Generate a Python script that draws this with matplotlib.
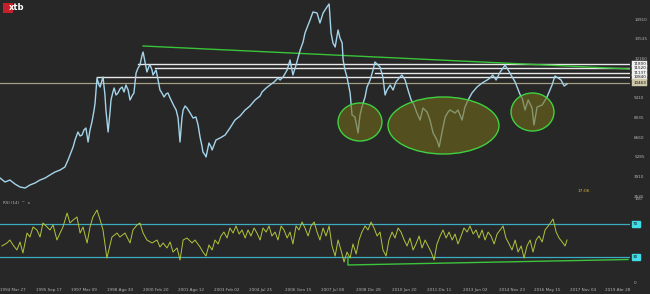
import matplotlib
matplotlib.use("Agg")
import matplotlib.pyplot as plt
from matplotlib.patches import Ellipse, Rectangle
from datetime import date

# weekly-ish IBEX 35 closes (decimal year, points)
price_years = [1994.23, 1994.44, 1994.64, 1994.85, 1995.06, 1995.27, 1995.47, 1995.68, 1995.89, 1996.10,
               1996.30, 1996.51, 1996.72, 1996.92, 1997.05, 1997.13, 1997.26, 1997.34, 1997.46, 1997.55,
               1997.63, 1997.71, 1997.79, 1997.88, 1997.96, 1998.04, 1998.13, 1998.17, 1998.25, 1998.33,
               1998.38, 1998.46, 1998.50, 1998.58, 1998.62, 1998.71, 1998.79, 1998.83, 1998.91, 1998.96,
               1999.04, 1999.12, 1999.20, 1999.29, 1999.37, 1999.45, 1999.54, 1999.62, 1999.70, 1999.78,
               1999.87, 1999.95, 2000.03, 2000.12, 2000.16, 2000.24, 2000.32, 2000.41, 2000.45, 2000.53,
               2000.57, 2000.65, 2000.70, 2000.78, 2000.86, 2000.94, 2001.03, 2001.11, 2001.19, 2001.28,
               2001.36, 2001.44, 2001.53, 2001.61, 2001.69, 2001.77, 2001.82, 2001.90, 2001.98, 2002.11,
               2002.23, 2002.35, 2002.44, 2002.52, 2002.60, 2002.64, 2002.73, 2002.77, 2002.85, 2002.89,
               2002.98, 2003.02, 2003.10, 2003.18, 2003.35, 2003.56, 2003.76, 2003.97, 2004.18, 2004.39,
               2004.59, 2004.80, 2005.01, 2005.09, 2005.26, 2005.42, 2005.59, 2005.75, 2005.84, 2005.96,
               2006.13, 2006.25, 2006.37, 2006.50, 2006.67, 2006.79, 2006.87, 2007.00, 2007.08, 2007.20,
               2007.37, 2007.49, 2007.62, 2007.78, 2007.87, 2007.95, 2008.03, 2008.12, 2008.24, 2008.32,
               2008.41, 2008.45, 2008.53, 2008.61, 2008.74, 2008.82, 2008.94, 2009.07, 2009.15, 2009.23,
               2009.36, 2009.44, 2009.57, 2009.69, 2009.77, 2009.90, 2009.98, 2010.10, 2010.19, 2010.27,
               2010.40, 2010.52, 2010.64, 2010.77, 2010.89, 2011.02, 2011.14, 2011.27, 2011.39, 2011.51,
               2011.64, 2011.76, 2011.93, 2012.05, 2012.18, 2012.34, 2012.43, 2012.55, 2012.68, 2012.80,
               2012.88, 2013.09, 2013.21, 2013.38, 2013.50, 2013.63, 2013.79, 2014.00, 2014.21, 2014.42,
               2014.54, 2014.65, 2014.79, 2014.96, 2015.08, 2015.16, 2015.29, 2015.41, 2015.58, 2015.66,
               2015.79, 2015.87, 2015.99, 2016.12, 2016.28, 2016.36, 2016.49, 2016.70, 2016.90, 2017.11,
               2017.23, 2017.36, 2017.48, 2017.61, 2017.73]
price_close = [3815, 3536, 3676, 3396, 3187, 3117, 3327, 3466, 3676, 3815,
               4024, 4234, 4373, 4583, 5071, 5420, 5978, 6467, 7025, 6746,
               6816, 7165, 7304, 6327, 7165, 7723, 8560, 9049, 10793, 10305,
               10165, 10654, 10863, 9607, 8560, 7025, 8421, 9258, 9816, 10095,
               9607, 9747, 10026, 10165, 9816, 10305, 9956, 9258, 9537, 9747,
               11142, 11491, 11700, 12398, 12607, 11910, 11212, 11631, 11700, 11351,
               11002, 11212, 11351, 10654, 9956, 9747, 9467, 9677, 9747, 9398,
               9118, 8839, 8560, 8002, 6327, 8002, 8560, 8839, 8700, 8351,
               8002, 8072, 7514, 6676, 6048, 5629, 5420, 5281, 5909, 6258,
               5978, 5769, 6118, 6467, 6606, 6816, 7304, 7862, 8142, 8560,
               8839, 9258, 9537, 9816, 10095, 10305, 10514, 10793, 10654, 10863,
               11351, 12049, 11002, 11700, 12747, 13305, 13933, 14492, 14840, 15399,
               15329, 14631, 15329, 15748, 15957, 13933, 13235, 12956, 14143, 13584,
               13235, 12049, 11351, 10863, 9747, 8211, 8072, 6955, 8211, 8770,
               9467, 10165, 10654, 11351, 11910, 11700, 11561, 10863, 9607, 9956,
               10305, 9956, 10514, 10793, 11002, 10654, 9956, 9258, 8909, 8351,
               7862, 8700, 8421, 7862, 6955, 6467, 5978, 7025, 8072, 8421,
               8560, 8351, 8560, 7862, 8770, 9258, 9747, 10165, 10444, 10654,
               10793, 11002, 10654, 11212, 11491, 11700, 11351, 11002, 10514, 10165,
               9607, 9398, 8560, 9258, 8700, 7514, 8770, 8909, 9467, 10305,
               10933, 10793, 10654, 10235, 10374]

# RSI(14)
rsi_years = [1994.31, 1994.52, 1994.64, 1994.77, 1994.93, 1995.06, 1995.18, 1995.35, 1995.47, 1995.60,
             1995.76, 1995.89, 1996.01, 1996.18, 1996.30, 1996.43, 1996.59, 1996.72, 1996.84, 1997.01,
             1997.13, 1997.26, 1997.42, 1997.55, 1997.67, 1997.84, 1997.96, 1998.08, 1998.25, 1998.38,
             1998.50, 1998.66, 1998.87, 1999.08, 1999.20, 1999.41, 1999.62, 1999.74, 1999.91, 2000.03,
             2000.16, 2000.32, 2000.53, 2000.74, 2000.86, 2000.99, 2001.15, 2001.28, 2001.40, 2001.57,
             2001.69, 2001.82, 2001.98, 2002.19, 2002.31, 2002.52,
             2002.64, 2002.77, 2002.89, 2003.02, 2003.14, 2003.27, 2003.39, 2003.51, 2003.64, 2003.76,
             2003.89, 2004.01, 2004.14, 2004.26, 2004.39, 2004.51, 2004.63, 2004.76, 2004.88, 2005.01,
             2005.13, 2005.26, 2005.38, 2005.50, 2005.63, 2005.75, 2005.88, 2006.00, 2006.13, 2006.25,
             2006.37, 2006.50, 2006.62, 2006.75, 2006.87, 2007.00, 2007.12, 2007.25, 2007.37, 2007.49,
             2007.62, 2007.74, 2007.87, 2007.99, 2008.12, 2008.24, 2008.36, 2008.49, 2008.61, 2008.74,
             2008.86, 2008.99, 2009.11, 2009.23, 2009.36, 2009.48, 2009.61, 2009.73, 2009.86, 2009.98,
             2010.10, 2010.23, 2010.35, 2010.48, 2010.60, 2010.73, 2010.85, 2010.98, 2011.10, 2011.22,
             2011.35, 2011.47, 2011.60, 2011.72, 2011.85, 2011.97, 2012.10, 2012.22, 2012.34, 2012.47,
             2012.59, 2012.72, 2012.84, 2012.97, 2013.09, 2013.21, 2013.34, 2013.46, 2013.59, 2013.71,
             2013.84, 2013.96, 2014.08, 2014.21, 2014.33, 2014.46, 2014.58, 2014.71, 2014.83, 2014.96,
             2015.08, 2015.20, 2015.33, 2015.45, 2015.58, 2015.70, 2015.83, 2015.95, 2016.07, 2016.20,
             2016.32, 2016.45, 2016.57, 2016.70, 2016.82, 2016.95, 2017.07, 2017.15, 2017.28, 2017.40,
             2017.53, 2017.65, 2017.73]
rsi_values = [43.4, 47.0, 50.6, 44.6, 38.6, 48.2, 34.9, 59.0, 54.2, 66.3,
              62.7, 54.2, 71.1, 66.3, 62.7, 68.7, 50.6, 59.0, 66.3, 83.1,
              71.1, 74.7, 78.3, 59.0, 66.3, 47.0, 66.3, 78.3, 86.7, 74.7,
              62.7, 28.9, 54.2, 59.0, 54.2, 59.0, 47.0, 62.7, 68.7, 71.1,
              59.0, 50.6, 47.0, 50.6, 42.2, 47.0, 41.0, 48.2, 36.1, 41.0,
              26.5, 50.6, 53.0, 47.0, 50.6, 42.2,
              36.1, 31.3, 44.6, 38.6, 50.6, 45.8, 55.4, 60.2, 53.0, 65.1,
              59.0, 67.5, 57.8, 62.7, 53.0, 62.7, 55.4, 65.1, 59.0, 50.6,
              65.1, 60.2, 67.5, 55.4, 60.2, 50.6, 67.5, 62.7, 53.0, 60.2,
              45.8, 67.5, 62.7, 72.3, 65.1, 55.4, 67.5, 72.3, 60.2, 50.6,
              65.1, 55.4, 67.5, 43.4, 31.3, 50.6, 38.6, 24.1, 36.1, 28.9,
              45.8, 33.7, 50.6, 60.2, 67.5, 62.7, 72.3, 65.1, 55.4, 60.2,
              38.6, 31.3, 50.6, 60.2, 53.0, 65.1, 60.2, 50.6, 43.4, 53.0,
              38.6, 45.8, 55.4, 41.0, 50.6, 43.4, 36.1, 26.5, 45.8, 55.4,
              62.7, 53.0, 60.2, 50.6, 57.8, 45.8, 55.4, 65.1, 60.2, 67.5,
              57.8, 62.7, 53.0, 62.7, 50.6, 60.2, 55.4, 45.8, 57.8, 62.7,
              67.5, 53.0, 45.8, 38.6, 50.6, 36.1, 43.4, 28.9, 43.4, 50.6,
              36.1, 50.6, 55.4, 48.2, 62.7, 67.5, 72.3, 75.9, 60.2, 53.0,
              48.2, 43.4, 50.6]

# horizontal resistance levels: value and year they start
level_values = [11800, 11520, 11137, 10840]
level_starts = [1999.95, 2000.65, 2009.77, 1998.25]
last_price = 10463

# descending trend line from the 2000 top, and RSI support line
trend_years = [2000.16, 2020.34]
trend_prices = [13026, 11421]
rsi_trend_years = [2008.65, 2008.65, 2020.26]
rsi_trend_values = [30.1, 20.5, 27.1]

# highlighted zones (centre year, centre price, width in years, height in points)
zone_years = [2009.15, 2012.61, 2016.30]
zone_prices = [7723, 7479, 8421]
zone_widths = [1.82, 4.60, 1.78]
zone_heights = [2650, 3980, 2650]

price_ticks = [14910, 13535, 12160, 9410, 8035, 6660, 5285, 3910, 2535]
tick_dates = ["1994-03-27", "1995-09-17", "1997-03-09", "1998-08-30", "2000-02-20", "2001-08-12",
              "2003-02-02", "2004-07-25", "2006-01-15", "2007-07-08", "2008-12-28", "2010-06-20",
              "2011-12-11", "2013-06-02", "2014-11-23", "2016-05-15", "2017-11-05", "2019-04-28"]
tick_labels = ["1994 Mar 27", "1995 Sep 17", "1997 Mar 09", "1998 Ago 30", "2000 Feb 20", "2001 Ago 12",
               "2003 Feb 02", "2004 Jul 25", "2006 Gen 15", "2007 Jul 08", "2008 Dic 28", "2010 Jun 20",
               "2011 Dic 11", "2013 Jun 02", "2014 Nov 23", "2016 May 15", "2017 Nov 04", "2019 Abr 28"]


def dec_year(s):
    d = date.fromisoformat(s)
    return d.year + (d.timetuple().tm_yday - 1) / 365.25


bg = "#272727"
txt = "#b4b4b4"
x0, x1 = 1994.23, 2020.34

fig = plt.figure(figsize=(6.5, 2.94), dpi=100, facecolor=bg)
ax = fig.add_axes([0, 1 - 198 / 294, 630 / 650, 198 / 294])
ar = fig.add_axes([0, 1 - 282 / 294, 630 / 650, 83 / 294])
for a in (ax, ar):
    a.set_facecolor(bg)
    for s in a.spines.values():
        s.set_visible(False)
    a.set_xlim(x0, x1)
    a.tick_params(length=0, colors=txt, labelsize=3)

ax.set_ylim(2420, 16236)
ax.yaxis.tick_right()
ax.set_yticks(price_ticks)
ax.set_yticklabels([str(v) for v in price_ticks])
ax.tick_params(axis="y", pad=3)
ax.set_xticks([])

# levels
for v, st in zip(level_values, level_starts):
    ax.plot([st, x1], [v, v], color="#e8e8e8", lw=1.0, zorder=2)
    ax.text(1.005, v, str(v), transform=ax.get_yaxis_transform(), fontsize=3, color="#111111",
            va="center", ha="left",
            bbox=dict(boxstyle="square,pad=0.25", fc="#f0f0f0", ec="#f0f0f0", lw=0.3), clip_on=False)
ax.plot([x0, x1], [last_price, last_price], color="#a49e84", lw=0.9, zorder=2)
ax.text(1.005, last_price, str(last_price), transform=ax.get_yaxis_transform(), fontsize=3,
        color="#111111", va="center", ha="left",
        bbox=dict(boxstyle="square,pad=0.3", fc="#cfc8a8", ec="#cfc8a8", lw=0.3), clip_on=False)

ax.plot(trend_years, trend_prices, color="#39c439", lw=1.0, zorder=3)
ax.plot(price_years, price_close, color="#a4d4ea", lw=1.0, zorder=4)

for cx, cy, w, h in zip(zone_years, zone_prices, zone_widths, zone_heights):
    ax.add_patch(Ellipse((cx, cy), w, h, fc=(0.45, 0.42, 0.10, 0.6), ec="#3fd23f", lw=1.0, zorder=5))

# logo
fig.patches.append(Rectangle((3 / 650, 1 - 13 / 294), 10 / 650, 10 / 294, transform=fig.transFigure,
                             fc="#c8202a", ec="none"))
fig.text(9 / 650, 1 - 8 / 294, "xtb", color="white", fontsize=6, fontweight="bold", va="center")
fig.text(578 / 650, 1 - 191 / 294, "17:06", color="#d8b030", fontsize=3.2, va="center")

# RSI panel
ar.set_ylim(0, 100)
ar.yaxis.tick_right()
ar.set_yticks([0, 100])
ar.set_yticklabels(["0", "100"])
ar.tick_params(axis="y", pad=3)
ar.axhline(70, color="#3aaec0", lw=0.9)
ar.axhline(30, color="#3aaec0", lw=0.9)
for lv in (70, 30):
    ar.text(1.005, lv, str(lv), transform=ar.get_yaxis_transform(), fontsize=3, color="#111111",
            va="center", ha="left",
            bbox=dict(boxstyle="square,pad=0.3", fc="#40dce8", ec="#40dce8"), clip_on=False)
ar.plot(rsi_trend_years, rsi_trend_values, color="#3cc43c", lw=1.0)
ar.plot(rsi_years, rsi_values, color="#b4c43a", lw=0.7)
ar.text(0.004, 0.97, "RSI (14)  ^  x", transform=ar.transAxes, fontsize=3, color=txt, va="top")

ar.set_xticks([dec_year(d) for d in tick_dates])
ar.set_xticklabels(tick_labels, ha="left")
ar.tick_params(axis="x", pad=4)

fig.savefig("out.png", dpi=100, facecolor=bg)
